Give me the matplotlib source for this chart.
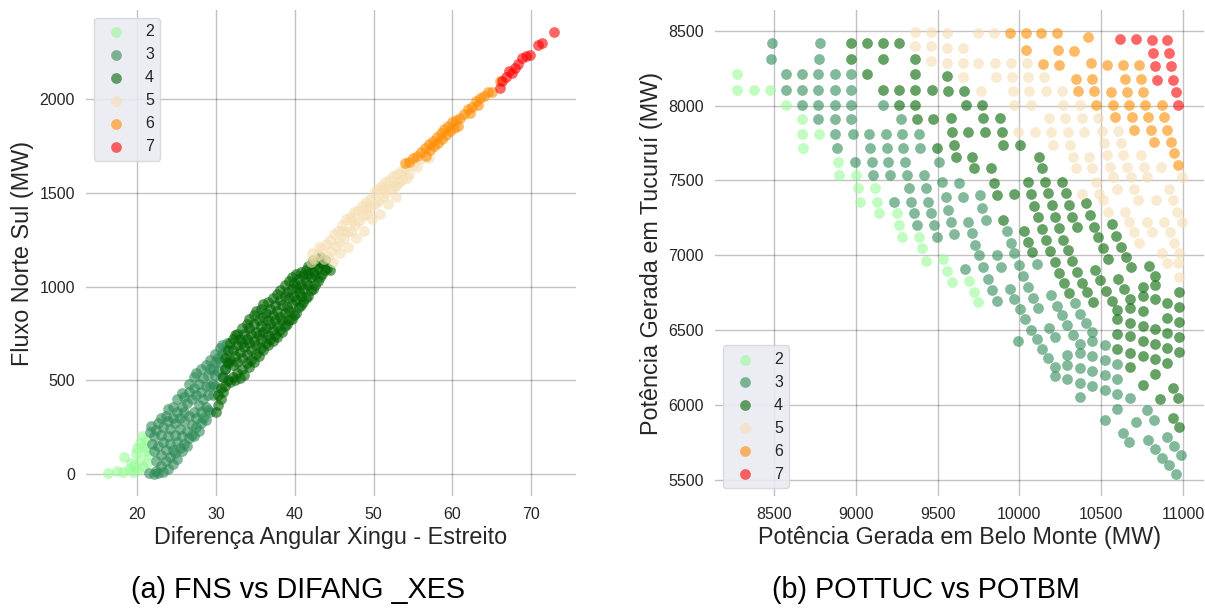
import matplotlib.pyplot as plt

plt.rcParams['font.family'] = ['Liberation Sans', 'DejaVu Sans']

# classes and colours
classes = ['2', '3', '4', '5', '6', '7']
colors = ['#98FB98', '#2E8B57', '#006400', '#F5DEB3', '#FF8C00', '#FF0000']

# (a) FNS vs DIFANG_XES  -> (diferença angular, fluxo), read column by column
fns_2 = [(16.3, 5), (17.4, 15), (18.2, 8), (18.9, 25), (19.5, 12), (20.1, 20), (18.3, 90), (19.2, 60),
         (19.8, 110), (20.4, 75), (21.0, 120), (20.3, 165), (20.9, 150), (21.5, 100), (19.6, 40),
         (20.7, 35), (21.3, 60), (20.0, 140), (20.6, 200), (21.1, 180)]
fns_3 = [(21.5, 5), (21.6, 225), (21.9, 160), (21.8, 255),
         (22.1, 0), (22.1, 120), (22.1, 200), (22.4, 15), (22.4, 70), (22.4, 235),
         (22.7, 5), (22.7, 150), (22.7, 270), (23.0, 40), (23.0, 100), (23.0, 210), (23.0, 300),
         (23.3, 10), (23.3, 170), (23.3, 250), (23.6, 70), (23.6, 130), (23.6, 310),
         (23.9, 25), (23.9, 200), (23.9, 280), (23.9, 345), (24.2, 90), (24.2, 160), (24.2, 240),
         (24.5, 55), (24.5, 130), (24.5, 300), (24.5, 360), (24.8, 110), (24.8, 210), (24.8, 270),
         (25.1, 80), (25.1, 170), (25.1, 330), (25.1, 400), (25.4, 140), (25.4, 240), (25.4, 300),
         (25.7, 120), (25.7, 200), (25.7, 360), (25.7, 430), (26.0, 160), (26.0, 280), (26.0, 330),
         (26.0, 410), (26.3, 150), (26.3, 230), (26.3, 380), (26.6, 190), (26.6, 310), (26.6, 440),
         (26.6, 480), (26.9, 210), (26.9, 260), (26.9, 400), (27.2, 200), (27.2, 330), (27.2, 460),
         (27.2, 520), (27.5, 250), (27.5, 300), (27.5, 420), (27.5, 540), (27.8, 230), (27.8, 370),
         (27.8, 480), (28.1, 270), (28.1, 330), (28.1, 440), (28.1, 560), (28.4, 300), (28.4, 400),
         (28.4, 510), (28.7, 290), (28.7, 360), (28.7, 470), (28.7, 580), (29.0, 340), (29.0, 420),
         (29.0, 530), (29.3, 330), (29.3, 470), (29.3, 560), (29.3, 610), (29.6, 420), (29.6, 480),
         (29.6, 560), (29.9, 470), (29.9, 530), (29.9, 600), (29.9, 640), (30.2, 550), (30.2, 620),
         (30.5, 600), (30.5, 670), (30.8, 520), (30.8, 640), (30.8, 690), (31.1, 560), (31.1, 660),
         (31.4, 600), (31.4, 700)]
fns_4 = [(30.0, 330), (30.3, 370), (30.3, 420), (30.6, 400), (30.6, 460), (30.9, 440), (30.9, 520),
         (31.2, 470), (31.2, 560), (31.2, 620), (31.5, 500), (31.5, 590), (31.5, 660),
         (31.8, 490), (31.8, 610), (31.8, 700), (32.1, 520), (32.1, 580), (32.1, 660), (32.1, 720),
         (32.4, 500), (32.4, 630), (32.4, 740), (32.7, 540), (32.7, 600), (32.7, 690), (32.7, 750),
         (33.0, 510), (33.0, 650), (33.0, 720), (33.3, 560), (33.3, 620), (33.3, 700), (33.3, 780),
         (33.6, 530), (33.6, 680), (33.6, 750), (33.9, 590), (33.9, 640), (33.9, 720), (33.9, 800),
         (34.2, 570), (34.2, 700), (34.2, 780), (34.2, 830), (34.5, 610), (34.5, 660), (34.5, 750),
         (34.8, 600), (34.8, 710), (34.8, 800), (34.8, 850), (35.1, 640), (35.1, 690), (35.1, 760),
         (35.1, 870), (35.4, 630), (35.4, 740), (35.4, 820), (35.7, 670), (35.7, 720), (35.7, 790),
         (35.7, 880), (36.0, 660), (36.0, 760), (36.0, 840), (36.0, 910), (36.3, 700), (36.3, 780),
         (36.3, 860), (36.6, 690), (36.6, 740), (36.6, 820), (36.6, 920), (36.9, 720), (36.9, 800),
         (36.9, 880), (37.2, 710), (37.2, 770), (37.2, 850), (37.2, 940), (37.5, 740), (37.5, 820),
         (37.5, 900), (37.8, 730), (37.8, 790), (37.8, 870), (37.8, 960), (38.1, 770), (38.1, 840),
         (38.1, 930), (38.1, 985), (38.4, 760), (38.4, 820), (38.4, 900), (38.7, 790), (38.7, 860),
         (38.7, 950), (38.7, 1010), (39.0, 800), (39.0, 890), (39.0, 970), (39.3, 820), (39.3, 870),
         (39.3, 940), (39.3, 1030), (39.6, 830), (39.6, 910), (39.6, 990), (39.6, 1050),
         (39.9, 850), (39.9, 950), (39.9, 1020), (40.2, 860), (40.2, 930), (40.2, 1000),
         (40.2, 1070), (40.5, 890), (40.5, 970), (40.5, 1040), (40.8, 900), (40.8, 950),
         (40.8, 1010), (40.8, 1080), (41.1, 920), (41.1, 990), (41.1, 1060), (41.4, 940),
         (41.4, 1030), (41.4, 1090), (41.7, 950), (41.7, 1010), (41.7, 1070), (41.7, 1110),
         (42.0, 980), (42.0, 1050), (42.0, 1120), (42.3, 990), (42.3, 1080), (42.3, 1140),
         (42.6, 1010), (42.6, 1060), (42.6, 1110), (42.9, 1030), (42.9, 1100), (42.9, 1150),
         (43.2, 1050), (43.2, 1130), (43.2, 1160), (43.5, 1070), (43.5, 1120), (43.8, 1090),
         (43.8, 1140), (44.1, 1100), (44.5, 1090)]
fns_5 = [(42.0, 1130), (42.2, 1180), (42.5, 1150), (43.0, 1170), (43.1, 1210), (43.5, 1200),
         (43.7, 1150), (44.0, 1230), (44.2, 1160), (44.5, 1250), (44.6, 1190), (44.8, 1130),
         (45.0, 1280), (45.2, 1220), (45.5, 1300), (45.6, 1240), (45.8, 1180), (46.0, 1330),
         (46.2, 1260), (46.5, 1360), (46.6, 1290), (46.8, 1210), (47.0, 1370), (47.2, 1300),
         (47.5, 1400), (47.6, 1330), (47.8, 1260), (48.0, 1410), (48.2, 1350), (48.5, 1430),
         (48.6, 1380), (48.8, 1300), (49.0, 1450), (49.2, 1390), (49.5, 1470), (49.6, 1420),
         (49.8, 1360), (50.0, 1500), (50.2, 1440), (50.5, 1520), (50.6, 1460), (50.8, 1390),
         (51.0, 1540), (51.2, 1480), (51.5, 1560), (51.6, 1500), (51.8, 1440), (52.0, 1570),
         (52.2, 1520), (52.5, 1590), (52.6, 1540), (52.8, 1480), (53.0, 1600), (53.2, 1560),
         (53.5, 1620), (53.6, 1570), (54.0, 1630), (54.2, 1580), (54.5, 1600), (55.0, 1650),
         (55.5, 1640), (56.0, 1680), (57.0, 1690), (46.0, 1300), (47.3, 1350), (49.0, 1420),
         (51.3, 1520), (52.9, 1540)]
fns_6 = [(54.0, 1660), (54.5, 1665), (55.0, 1690), (55.5, 1700), (56.0, 1720), (56.5, 1740),
         (56.6, 1700), (57.0, 1760), (57.2, 1730), (57.5, 1780), (57.7, 1750), (58.0, 1800),
         (58.2, 1770), (58.5, 1820), (58.7, 1790), (59.0, 1840), (59.2, 1810), (59.5, 1860),
         (59.7, 1830), (60.0, 1880), (60.2, 1850), (60.5, 1890), (60.7, 1860), (61.0, 1900),
         (61.5, 1920), (62.0, 1950), (62.2, 1930), (62.5, 1960), (63.0, 1990), (63.2, 1970),
         (63.5, 2010), (64.0, 2020), (64.5, 2040), (65.0, 2040), (66.0, 2100)]
fns_7 = [(66.0, 2060), (66.3, 2100), (66.8, 2120), (67.2, 2150), (67.6, 2140), (68.0, 2170),
         (68.4, 2190), (68.9, 2220), (69.3, 2230), (69.8, 2240), (70.9, 2290), (71.4, 2300),
         (72.9, 2360)]

# (b) POTTUC vs POTBM -> (belo monte, tucurui)
pot_2 = [(8274, 8210), (8274, 8105), (8374, 8105), (8474, 8105), (8572, 8003), (8671, 7907),
         (8671, 7811), (8776, 7811), (8678, 7715), (8888, 7625), (8896, 7536), (9000, 7536),
         (9010, 7447), (9116, 7447), (9024, 7357), (9130, 7357), (9141, 7280), (9249, 7280),
         (9263, 7201), (9283, 7123), (9388, 7123), (9406, 7045), (9428, 6963), (9534, 6972),
         (9559, 6896), (9585, 6820), (9694, 6829), (9722, 6755), (9749, 6684)]
pot_3 = [(8488, 8418), (8780, 8418), (8480, 8311), (8776, 8311),
         (8572, 8210), (8671, 8210), (8771, 8210), (8869, 8210), (8969, 8210),
         (8572, 8105), (8671, 8105), (8771, 8105), (8869, 8105), (8969, 8105),
         (8671, 8003), (8771, 8003), (8869, 8003), (8969, 8003), (9167, 8003),
         (8771, 7907), (8869, 7907), (8969, 7907), (9275, 7907),
         (8875, 7811), (8980, 7811), (9079, 7811), (9181, 7811), (9283, 7811), (9385, 7811),
         (8882, 7715), (9086, 7715), (9188, 7715), (9290, 7715), (9392, 7715),
         (8994, 7625), (9096, 7625), (9198, 7625), (9300, 7625), (9508, 7625),
         (9106, 7536), (9208, 7536), (9310, 7536), (9416, 7536), (9324, 7447), (9426, 7447),
         (9232, 7357), (9337, 7357), (9443, 7357), (9355, 7280), (9459, 7280),
         (9371, 7201), (9477, 7201), (9494, 7123),
         (9528, 7491), (9632, 7480), (9549, 7391), (9653, 7391), (9757, 7402), (9561, 7302),
         (9773, 7313), (9579, 7224), (9688, 7224), (9794, 7235), (9600, 7141), (9708, 7145),
         (9922, 7163), (9728, 7067), (9947, 7083), (9753, 7000), (9861, 7000), (9969, 7012),
         (9667, 6905), (9779, 6918), (9806, 6840), (9832, 6766), (9861, 6695), (9887, 6922),
         (9942, 6777), (9969, 6706), (9997, 6934), (10024, 6860), (10055, 6788), (10081, 6717),
         (10004, 6637), (10034, 6570), (10069, 6503), (9989, 6427), (10106, 6438), (10138, 6376),
         (10177, 6315), (10218, 6253), (10218, 6190), (10106, 6940), (10116, 6650), (10191, 6733),
         (10228, 6661), (10259, 6597), (10293, 6532), (10181, 6516), (10218, 6454), (10330, 6469),
         (10371, 6409), (10340, 6677), (10371, 6610), (10407, 6547), (10446, 6487), (10446, 6427),
         (10446, 6324), (10446, 6226), (10446, 6123), (10371, 6347), (10293, 6331), (10293, 6268),
         (10371, 6246), (10293, 6170), (10371, 6146), (10369, 6050),
         (10524, 6398), (10524, 6297), (10524, 6197), (10524, 6097), (10599, 6275), (10599, 6175),
         (10599, 6074), (10677, 6047), (10599, 5974), (10524, 5900), (10783, 5963), (10824, 5900),
         (10714, 5884), (10636, 5811), (10673, 5751), (10789, 5766), (10830, 5706), (10871, 5646),
         (10916, 5594), (10958, 5538), (10901, 5784), (10946, 5722), (10987, 5666)]
pot_4 = [(8969, 8418), (9069, 8418), (9167, 8418), (9265, 8418), (8969, 8311), (9167, 8311),
         (9361, 8311), (9069, 8210), (9361, 8210), (9167, 8105), (9265, 8105), (9361, 8105),
         (9463, 8105), (9265, 8003), (9361, 8003), (9375, 7907), (9473, 7907), (9494, 7715),
         (9559, 8195), (9565, 8099), (9663, 8099), (9671, 8005), (9769, 8005), (9579, 7916),
         (9779, 7916), (9881, 7916), (9586, 7826), (9688, 7826), (9790, 7826), (9892, 7826),
         (9600, 7737), (9902, 7737), (10004, 7737), (9610, 7654), (9712, 7654), (10122, 7659),
         (9724, 7581), (9826, 7581), (10136, 7581),
         (9902, 7235), (10030, 7163), (10055, 7090), (10079, 7018), (10071, 7409), (10091, 7331),
         (10116, 7257), (10136, 7172), (10163, 7101), (10187, 7029), (10157, 7491), (10177, 7413),
         (10197, 7335), (10218, 7257), (10245, 7179), (10269, 7101), (10296, 7034), (10259, 7491),
         (10283, 7413), (10304, 7335), (10324, 7257), (10351, 7190), (10408, 7346), (10432, 7268),
         (10457, 7190), (10483, 7119), (10051, 7491), (9967, 7409), (9863, 7402), (9845, 7480),
         (10218, 6951), (10324, 6960), (10242, 6878), (10350, 6889), (10273, 6811), (10385, 6817),
         (10306, 6744), (10416, 6753), (10452, 6688), (10463, 6900), (10493, 6833),
         (10514, 7047), (10544, 6976), (10530, 6762), (10565, 6695), (10599, 6632), (10599, 6572),
         (10565, 7208), (10591, 7128), (10622, 7056), (10652, 6985), (10683, 6918), (10605, 6844),
         (10640, 6777), (10677, 6710), (10677, 6650), (10677, 6547), (10677, 6458), (10677, 6349),
         (10677, 6253), (10795, 6927), (10830, 6860), (10830, 6800), (10830, 6704), (10754, 6788),
         (10754, 6726), (10754, 6626), (10754, 6525), (10754, 6425), (10754, 6324), (10754, 6130),
         (10599, 6476), (10599, 6375), (10830, 6509), (10830, 6409), (10830, 6304), (10830, 6208),
         (10905, 6677), (10905, 6581), (10905, 6480), (10905, 6380), (10905, 6280), (10979, 6755),
         (10979, 6654), (10979, 6554), (10979, 6454), (10979, 6353), (10861, 6036), (10942, 6112),
         (10973, 6047), (10938, 5914), (10979, 5851)]
pot_5 = [(9361, 8491), (9459, 8491), (9361, 8395), (9459, 8395), (9459, 8295),
         (9555, 8485), (9749, 8485), (9847, 8485), (9555, 8384), (9653, 8384), (9555, 8288),
         (9653, 8288), (9749, 8288), (9851, 8288), (9949, 8288), (10045, 8288), (9657, 8190),
         (9857, 8190), (9953, 8190), (10051, 8190), (10149, 8190), (9763, 8099), (9959, 8099),
         (10061, 8099), (10161, 8099), (10259, 8099), (9969, 8005), (10069, 8005), (10269, 8005),
         (10371, 8005), (10181, 7916), (10279, 7916), (10381, 7916), (10483, 7916), (9994, 7826),
         (10093, 7826), (10193, 7826), (10296, 7826), (10397, 7826), (10208, 7737), (10310, 7737),
         (10326, 7654), (10428, 7654), (10344, 7581), (10446, 7581), (10469, 7491), (10385, 7409),
         (10487, 7409),
         (10504, 7833), (10605, 7833), (10518, 7748), (10620, 7748), (10534, 7670), (10636, 7670),
         (10742, 7670), (10555, 7592), (10656, 7592), (10763, 7592), (10865, 7592), (10575, 7525),
         (10681, 7525), (10783, 7525), (10993, 7525), (10599, 7440), (10701, 7440), (10912, 7440),
         (10514, 7369), (10728, 7369), (10836, 7369), (10938, 7369), (10540, 7291), (10646, 7291),
         (10962, 7291), (10673, 7224), (10779, 7224), (10887, 7224), (10993, 7224), (10701, 7157),
         (10810, 7157), (10918, 7157), (10732, 7079), (10948, 7079), (10871, 7012), (10979, 7012),
         (10905, 6945), (10973, 6945), (10979, 6855)]
pot_6 = [(9943, 8485), (10038, 8485), (10132, 8485), (10230, 8485), (10422, 8456), (10038, 8373),
         (10234, 8369), (10332, 8362), (10142, 8279), (10240, 8273), (10436, 8288), (10346, 8179),
         (10446, 8179), (10357, 8099), (10457, 8099), (10471, 8005),
         (10534, 8268), (10632, 8268), (10732, 8268), (10646, 8179), (10742, 8179), (10559, 8094),
         (10656, 8094), (10754, 8094), (10571, 8005), (10671, 8005), (10771, 8005), (10871, 8005),
         (10585, 7922), (10687, 7922), (10789, 7922), (10887, 7922), (10701, 7837), (10803, 7837),
         (10905, 7837), (10824, 7755), (10926, 7755), (10946, 7681), (10967, 7603)]
pot_7 = [(10616, 8447), (10714, 8447), (10810, 8440), (10905, 8440), (10820, 8351), (10916, 8351),
         (10830, 8262), (10928, 8262), (10840, 8172), (10942, 8172), (10956, 8090), (10973, 8005)]

left_groups = [fns_2, fns_3, fns_4, fns_5, fns_6, fns_7]
right_groups = [pot_2, pot_3, pot_4, pot_5, pot_6, pot_7]

W, H = 1205, 608
fig = plt.figure(figsize=(W / 100, H / 100), dpi=100)
ax1 = fig.add_axes([86 / W, 112 / H, 490 / W, 486 / H])
ax2 = fig.add_axes([715 / W, 112 / H, 489 / W, 486 / H])

for ax, groups in [(ax1, left_groups), (ax2, right_groups)]:
    for lab, col, pts in zip(classes, colors, groups):
        xs = [p[0] for p in pts]
        ys = [p[1] for p in pts]
        ax.scatter(xs, ys, s=60, color=col, alpha=0.6, linewidths=0, label=lab, zorder=3)
    ax.set_axisbelow(True)
    ax.grid(True, color='black', alpha=0.24, lw=1.0)
    for sp in ax.spines.values():
        sp.set_visible(False)
    ax.tick_params(length=0, labelsize=11.5, colors='#262626', pad=8)
    ax.set_facecolor('white')

ax1.set_xlim(13.5, 75.7)
ax1.set_ylim(-118, 2478)
ax1.set_xticks([20, 30, 40, 50, 60, 70])
ax1.set_yticks([0, 500, 1000, 1500, 2000])
ax1.set_xlabel('Diferença Angular Xingu - Estreito', fontsize=16.8, color='#262626', labelpad=3)
ax1.set_ylabel('Fluxo Norte Sul (MW)', fontsize=16.8, color='#262626', labelpad=4)

ax2.set_xlim(8138, 11129)
ax2.set_ylim(5390, 8639)
ax2.set_xticks([8500, 9000, 9500, 10000, 10500, 11000])
ax2.set_yticks([5500, 6000, 6500, 7000, 7500, 8000, 8500])
ax2.set_xlabel('Potência Gerada em Belo Monte (MW)', fontsize=16.8, color='#262626', labelpad=3)
ax2.set_ylabel('Potência Gerada em Tucuruí (MW)', fontsize=16.8, color='#262626', labelpad=4)

for ax, loc in [(ax1, 'upper left'), (ax2, 'lower left')]:
    leg = ax.legend(loc=loc, fontsize=11.5, facecolor='#EAEAF2', edgecolor='#d6d6de',
                    framealpha=0.9, fancybox=True)
    for t in leg.get_texts():
        t.set_color('#262626')

fig.text(298 / W, 1 - 590 / H, '(a) FNS vs DIFANG _XES', fontsize=20.7, ha='center', va='center')
fig.text(926 / W, 1 - 590 / H, '(b) POTTUC vs POTBM', fontsize=20.7, ha='center', va='center')

fig.savefig('out.png', dpi=100)
